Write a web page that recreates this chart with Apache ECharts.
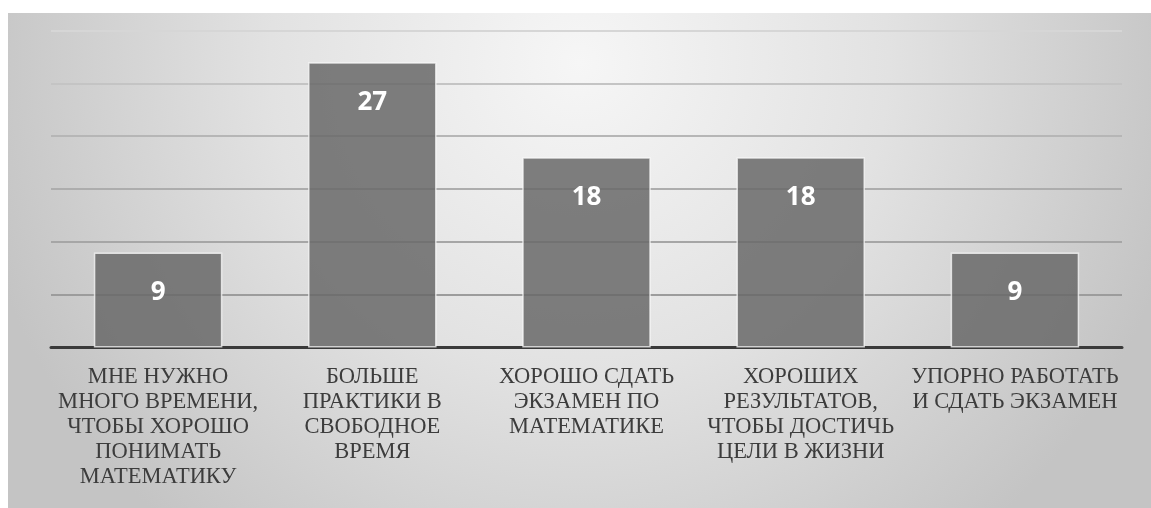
<!DOCTYPE html>
<html>
<head>
<meta charset="utf-8">
<script src="https://cdn.jsdelivr.net/npm/echarts@6/dist/echarts.min.js"></script>
<style>
html,body{margin:0;padding:0;background:#ffffff;}
#chart{width:1151px;height:508px;}
</style>
</head>
<body>
<div id="chart"></div>
<script>
const categories = [
  "МНЕ НУЖНО\nМНОГО ВРЕМЕНИ,\nЧТОБЫ ХОРОШО\nПОНИМАТЬ\nМАТЕМАТИКУ",
  "БОЛЬШЕ\nПРАКТИКИ В\nСВОБОДНОЕ\nВРЕМЯ",
  "ХОРОШО СДАТЬ\nЭКЗАМЕН ПО\nМАТЕМАТИКЕ",
  "ХОРОШИХ\nРЕЗУЛЬТАТОВ,\nЧТОБЫ ДОСТИЧЬ\nЦЕЛИ В ЖИЗНИ",
  "УПОРНО РАБОТАТЬ\nИ СДАТЬ ЭКЗАМЕН"
];
const values = [9, 27, 18, 18, 9];
const yMin = 0, yMax = 30, yStep = 5;

const chart = echarts.init(document.getElementById('chart'), null, {renderer: 'canvas'});
chart.setOption({
  animation: false,
  graphic: [{
    type: 'rect',
    z: -10,
    silent: true,
    shape: {x: 8, y: 13, width: 1143, height: 495},
    style: {
      fill: new echarts.graphic.RadialGradient(0.5, 0.1, 1.25, [
        {offset: 0, color: '#f6f6f6'},
        {offset: 0.5, color: '#e2e2e2'},
        {offset: 1, color: '#c4c4c4'}
      ])
    }
  }],
  grid: {left: 51, right: 29, top: 30.5, bottom: 160.5, containLabel: false},
  xAxis: {
    type: 'category',
    data: categories,
    axisLine: {show: true, lineStyle: {color: '#3a3a3a', width: 3}},
    axisTick: {show: false},
    axisLabel: {
      interval: 0,
      margin: 17,
      color: '#3c3c3c',
      fontFamily: '"Liberation Serif", "DejaVu Serif", serif',
      fontSize: 22.5,
      lineHeight: 25,
      align: 'center'
    }
  },
  yAxis: {
    type: 'value',
    min: yMin, max: yMax, interval: yStep,
    axisLine: {show: false},
    axisTick: {show: false},
    axisLabel: {show: false},
    splitLine: {show: true, lineStyle: {
      color: ['#9a9a9a', '#9c9c9c', '#a6a6a6', '#adadad', '#b6b6b6', '#c4c4c4', '#d6d6d6'],
      width: 2
    }}
  },
  series: [{
    type: 'bar',
    data: values,
    barWidth: '60%',
    itemStyle: {
      color: 'rgba(105,105,105,0.85)',
      borderColor: 'rgba(250,250,250,0.75)',
      borderWidth: 1.5
    },
    label: {
      show: true,
      position: 'insideTop',
      distance: 27,
      color: '#ffffff',
      fontFamily: '"Open Sans", "Noto Sans", sans-serif',
      fontWeight: 'bold',
      fontSize: 26
    }
  }]
});
</script>
</body>
</html>
